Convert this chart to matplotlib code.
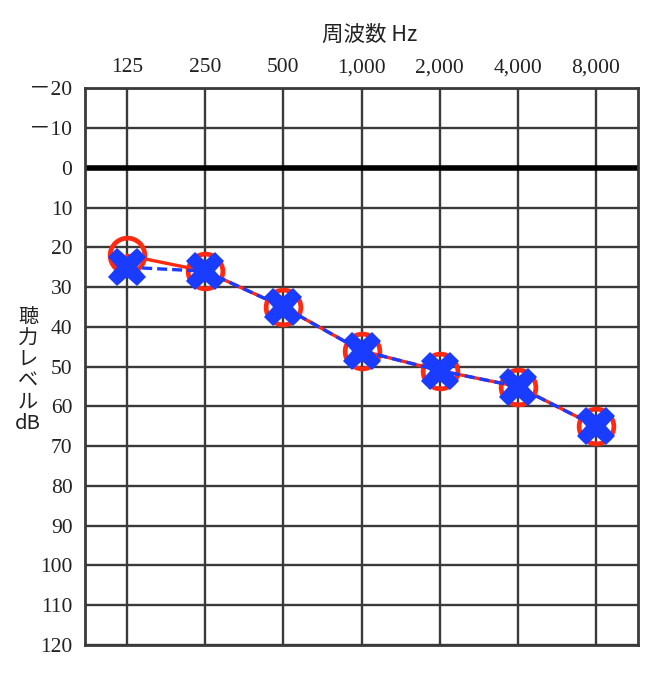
import matplotlib
matplotlib.use("Agg")
import matplotlib.pyplot as plt

freq_labels = ["125", "250", "500", "1,000", "2,000", "4,000", "8,000"]
right_ear = [22, 26, 35, 46, 51, 55, 65]
left_ear = [25, 26, 35, 46, 51, 55, 65]
y_ticks = [-20, -10, 0, 10, 20, 30, 40, 50, 60, 70, 80, 90, 100, 110, 120]
y_tick_labels = ["－20", "－10"] + [str(v) for v in y_ticks[2:]]

plt.rcParams['font.family'] = ['Liberation Serif', 'Noto Sans CJK JP']

fig = plt.figure(figsize=(6.64, 6.74), dpi=100)
ax = fig.add_axes([0.128, 0.043, 0.833, 0.826])

x = list(range(len(freq_labels)))
ax.set_xlim(-0.54, len(freq_labels) - 1 + 0.54)
ax.set_ylim(120, -20)

grid_c = "#3a3a3a"
for xi in x:
    ax.axvline(xi, color=grid_c, lw=1.7, zorder=1)
for yv in y_ticks:
    if yv == 0:
        ax.axhline(yv, color="black", lw=4, zorder=2)
    else:
        ax.axhline(yv, color=grid_c, lw=1.7, zorder=1)

for s in ax.spines.values():
    s.set_color(grid_c)
    s.set_linewidth(2)

ax.plot(x, right_ear, color="#ff2a10", lw=2.4, marker="o", ms=25,
        mfc="none", mec="#ff2a10", mew=3.4, zorder=3)
ax.plot(x, left_ear, color="#1a3cff", lw=2.4, ls=(0, (3, 1.5)), marker="X",
        ms=28, mfc="#1a3cff", mec="#1a3cff", mew=0, zorder=4)

ax.xaxis.tick_top()
ax.set_xticks(x)
ax.set_xticklabels(freq_labels, fontsize=15.5, color="#222222")
ax.set_yticks(y_ticks)
ax.set_yticklabels(y_tick_labels, fontsize=15.5, color="#222222")
ax.tick_params(axis="both", length=0)
ax.tick_params(axis="x", pad=8)
ax.tick_params(axis="y", pad=9)

fig.text(0.557, 0.948, "周波数 Hz", ha="center", va="center", fontsize=15.5,
         color="#222222", family=['Noto Sans CJK JP', 'Liberation Serif'])
fig.text(0.042, 0.45, "聴\n力\nレ\nベ\nル\ndB", ha="center", va="center",
         fontsize=14.5, color="#222222", linespacing=1.0,
         family=['Noto Sans CJK JP', 'Liberation Serif'])

fig.savefig("out.png", dpi=100)
